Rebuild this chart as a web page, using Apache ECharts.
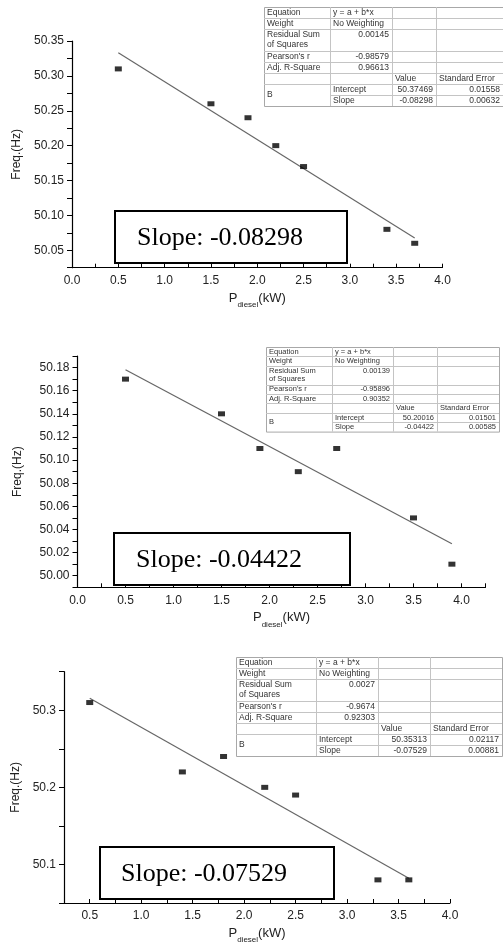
<!DOCTYPE html>
<html>
<head>
<meta charset="utf-8">
<script src="https://cdn.jsdelivr.net/npm/echarts@6/dist/echarts.min.js"></script>
<style>
  html, body { margin: 0; padding: 0; background: #fff; }
  #chart { width: 503px; height: 945px; }
</style>
</head>
<body>
<div id="chart"></div>
<script>
// measured points (P_diesel in kW, frequency in Hz)
const power1 = [0.5, 1.5, 1.9, 2.2, 2.5, 3.4, 3.7];
const freq1 = [50.31, 50.26, 50.24, 50.20, 50.17, 50.08, 50.06];
const power2 = [0.5, 1.5, 1.9, 2.3, 2.7, 3.5, 3.9];
const freq2 = [50.17, 50.14, 50.11, 50.09, 50.11, 50.05, 50.01];
const power3 = [0.5, 1.4, 1.8, 2.2, 2.5, 3.3, 3.6];
const freq3 = [50.31, 50.22, 50.24, 50.20, 50.19, 50.08, 50.08];

// end points of the fitted lines
const fitX1 = [0.5, 3.7];
const fitY1 = [50.3332, 50.0677];
const fitX2 = [0.5, 3.9];
const fitY2 = [50.1781, 50.0277];
const fitX3 = [0.5, 3.6];
const fitY3 = [50.3155, 50.0821];

// tick labels
const xLabels1 = [0, 0.5, 1, 1.5, 2, 2.5, 3, 3.5, 4];
const yLabels1 = [50.05, 50.10, 50.15, 50.20, 50.25, 50.30, 50.35];
const xLabels2 = [0, 0.5, 1, 1.5, 2, 2.5, 3, 3.5, 4];
const yLabels2 = [50.00, 50.02, 50.04, 50.06, 50.08, 50.10, 50.12, 50.14, 50.16, 50.18];
const xLabels3 = [0.5, 1, 1.5, 2, 2.5, 3, 3.5, 4];
const yLabels3 = [50.1, 50.2, 50.3];

// fit report tables
const rowLabels = ['Equation', 'Weight', 'Residual Sum', 'of Squares', "Pearson's r", 'Adj. R-Square', 'B'];
const equationText = 'y = a + b*x';
const weightText = 'No Weighting';
const headerValue = 'Value';
const headerError = 'Standard Error';
const residualSS = ['0.00145', '0.00139', '0.0027'];
const pearsonR = ['-0.98579', '-0.95896', '-0.9674'];
const adjRSquare = ['0.96613', '0.90352', '0.92303'];
const interceptVal = ['50.37469', '50.20016', '50.35313'];
const interceptErr = ['0.01558', '0.01501', '0.02117'];
const slopeVal = ['-0.08298', '-0.04422', '-0.07529'];
const slopeErr = ['0.00632', '0.00585', '0.00881'];

const SANS = '"Liberation Sans", Arial, sans-serif';
const SERIF = '"Liberation Serif", "Times New Roman", serif';

const pairs = (xs, ys) => xs.map((x, k) => [x, ys[k]]);

const isOn = (v, step) => Math.abs(v / step - Math.round(v / step)) < 1e-6;

function makeX(i, min, max, step, labels) {
  return {
    gridIndex: i, type: 'value', min: min, max: max, interval: step / 2,
    axisLine: { show: true, onZero: false, lineStyle: { color: '#000', width: 1.2 } },
    axisTick: { show: true, inside: true, length: 4, lineStyle: { color: '#000' } },
    axisLabel: {
      customValues: labels,
      formatter: (v) => (isOn(v, step) ? v.toFixed(1) : ''),
      color: '#222', fontSize: 12, fontFamily: SANS, margin: 7
    },
    splitLine: { show: false },
    name: '{p|P}{s|diesel}{p|(kW)}',
    nameLocation: 'middle',
    nameGap: 24,
    nameTextStyle: {
      rich: {
        p: { fontSize: 13, fontFamily: SANS, color: '#222', lineHeight: 17, verticalAlign: 'top' },
        s: { fontSize: 8, fontFamily: SANS, color: '#222', lineHeight: 17, verticalAlign: 'bottom' }
      }
    }
  };
}

function makeY(i, min, max, step, labels, dec, gap) {
  return {
    gridIndex: i, type: 'value', min: min, max: max, interval: step / 2,
    axisLine: { show: true, onZero: false, lineStyle: { color: '#000', width: 1.2 } },
    axisTick: { show: true, inside: false, length: 5, lineStyle: { color: '#000' } },
    axisLabel: {
      customValues: labels,
      formatter: (v) => (isOn(v, step) ? v.toFixed(dec) : ''),
      color: '#222', fontSize: 12, fontFamily: SANS, margin: 8
    },
    splitLine: { show: false },
    name: 'Freq.(Hz)',
    nameLocation: 'middle',
    nameGap: gap,
    nameTextStyle: { fontSize: 12, fontFamily: SANS, color: '#222' }
  };
}

function scatter(i, xs, ys) {
  return {
    type: 'scatter', xAxisIndex: i, yAxisIndex: i,
    data: pairs(xs, ys),
    symbol: 'rect', symbolSize: [7, 5],
    itemStyle: { color: '#000' }, z: 4
  };
}

function fitLine(i, xs, ys) {
  return {
    type: 'line', xAxisIndex: i, yAxisIndex: i,
    data: pairs(xs, ys),
    showSymbol: false,
    lineStyle: { color: '#666', width: 1.2 }, z: 3
  };
}

// table drawn with graphic elements
function hline(x1, x2, y) {
  return { type: 'line', z: 101, shape: { x1: x1, y1: Math.round(y) + 0.5, x2: x2, y2: Math.round(y) + 0.5 },
    style: { stroke: '#c4c4c4', lineWidth: 1 } };
}
function vline(x, y1, y2) {
  return { type: 'line', z: 101, shape: { x1: Math.round(x) + 0.5, y1: y1, x2: Math.round(x) + 0.5, y2: y2 },
    style: { stroke: '#c4c4c4', lineWidth: 1 } };
}
function cellText(x, y, text, align, fs) {
  return { type: 'text', z: 102, x: x, y: y,
    style: { text: text, fontSize: fs, fontFamily: SANS, fill: '#333', align: align, verticalAlign: 'middle' } };
}

function buildTable(i, x0, y0, colW, rowH, fs) {
  const els = [];
  const xs = [x0];
  colW.forEach((w) => xs.push(xs[xs.length - 1] + w));
  const W = xs[4] - x0;
  const H = 9 * rowH;
  const mid = (u) => y0 + (u + 0.5) * rowH;
  els.push({ type: 'rect', z: 100, shape: { x: x0 + 0.5, y: y0 + 0.5, width: W, height: H },
    style: { fill: '#fff', stroke: '#a8a8a8', lineWidth: 1 } });
  [1, 2, 4, 5, 6, 7].forEach((u) => els.push(hline(x0, xs[4], y0 + u * rowH)));
  els.push(hline(xs[1], xs[4], y0 + 8 * rowH));
  for (let c = 1; c < 4; c++) els.push(vline(xs[c], y0, y0 + H));
  const pad = 3;
  els.push(cellText(x0 + pad, mid(0), rowLabels[0], 'left', fs));
  els.push(cellText(x0 + pad, mid(1), rowLabels[1], 'left', fs));
  els.push(cellText(x0 + pad, mid(2), rowLabels[2], 'left', fs));
  els.push(cellText(x0 + pad, mid(3) - 1, rowLabels[3], 'left', fs));
  els.push(cellText(x0 + pad, mid(4), rowLabels[4], 'left', fs));
  els.push(cellText(x0 + pad, mid(5), rowLabels[5], 'left', fs));
  els.push(cellText(x0 + pad, y0 + 8 * rowH, rowLabels[6], 'left', fs));
  els.push(cellText(xs[1] + pad, mid(0), equationText, 'left', fs));
  els.push(cellText(xs[1] + pad, mid(1), weightText, 'left', fs));
  els.push(cellText(xs[2] - pad, mid(2), residualSS[i], 'right', fs));
  els.push(cellText(xs[2] - pad, mid(4), pearsonR[i], 'right', fs));
  els.push(cellText(xs[2] - pad, mid(5), adjRSquare[i], 'right', fs));
  els.push(cellText(xs[2] + pad, mid(6), headerValue, 'left', fs));
  els.push(cellText(xs[3] + pad, mid(6), headerError, 'left', fs));
  els.push(cellText(xs[1] + pad, mid(7), 'Intercept', 'left', fs));
  els.push(cellText(xs[1] + pad, mid(8), 'Slope', 'left', fs));
  els.push(cellText(xs[3] - pad, mid(7), interceptVal[i], 'right', fs));
  els.push(cellText(xs[3] - pad, mid(8), slopeVal[i], 'right', fs));
  els.push(cellText(xs[4] - pad, mid(7), interceptErr[i], 'right', fs));
  els.push(cellText(xs[4] - pad, mid(8), slopeErr[i], 'right', fs));
  return els;
}

function slopeBox(i, x, y, w, h, textX) {
  return [
    { type: 'rect', z: 100, shape: { x: x, y: y, width: w, height: h },
      style: { fill: '#fff', stroke: '#000', lineWidth: 2 } },
    { type: 'text', z: 101, x: textX, y: y + h / 2 + 1,
      style: { text: 'Slope: ' + slopeVal[i], fontSize: 26, fontFamily: SERIF, fill: '#000',
        align: 'left', verticalAlign: 'middle' } }
  ];
}

const chart = echarts.init(document.getElementById('chart'), null, { renderer: 'canvas' });

const option = {
  animation: false,
  backgroundColor: '#fff',
  grid: [
    { left: 72, top: 41, width: 370.5, height: 226.7 },
    { left: 77.5, top: 356, width: 408, height: 231.3 },
    { left: 64, top: 671.7, width: 386, height: 234.3 }
  ],
  xAxis: [
    makeX(0, 0, 4, 0.5, xLabels1),
    makeX(1, 0, 4.25, 0.5, xLabels2),
    makeX(2, 0.25, 4, 0.5, xLabels3)
  ],
  yAxis: [
    makeY(0, 50.025, 50.35, 0.05, yLabels1, 2, 48),
    makeY(1, 49.99, 50.19, 0.02, yLabels2, 2, 54),
    makeY(2, 50.05, 50.35, 0.1, yLabels3, 1, 42)
  ],
  series: [
    fitLine(0, fitX1, fitY1), scatter(0, power1, freq1),
    fitLine(1, fitX2, fitY2), scatter(1, power2, freq2),
    fitLine(2, fitX3, fitY3), scatter(2, power3, freq3)
  ],
  graphic: [].concat(
    buildTable(0, 264, 7, [66, 62, 44, 67], 11, 8.5),
    buildTable(1, 266, 347, [66, 61, 44, 62], 9.4, 7.5),
    buildTable(2, 236, 657, [80, 62, 52, 72], 11, 8.5),
    slopeBox(0, 115, 211, 232, 52, 137),
    slopeBox(1, 114, 533, 236, 52, 136),
    slopeBox(2, 100, 847, 234, 52, 121)
  )
};

chart.setOption(option);
</script>
</body>
</html>
